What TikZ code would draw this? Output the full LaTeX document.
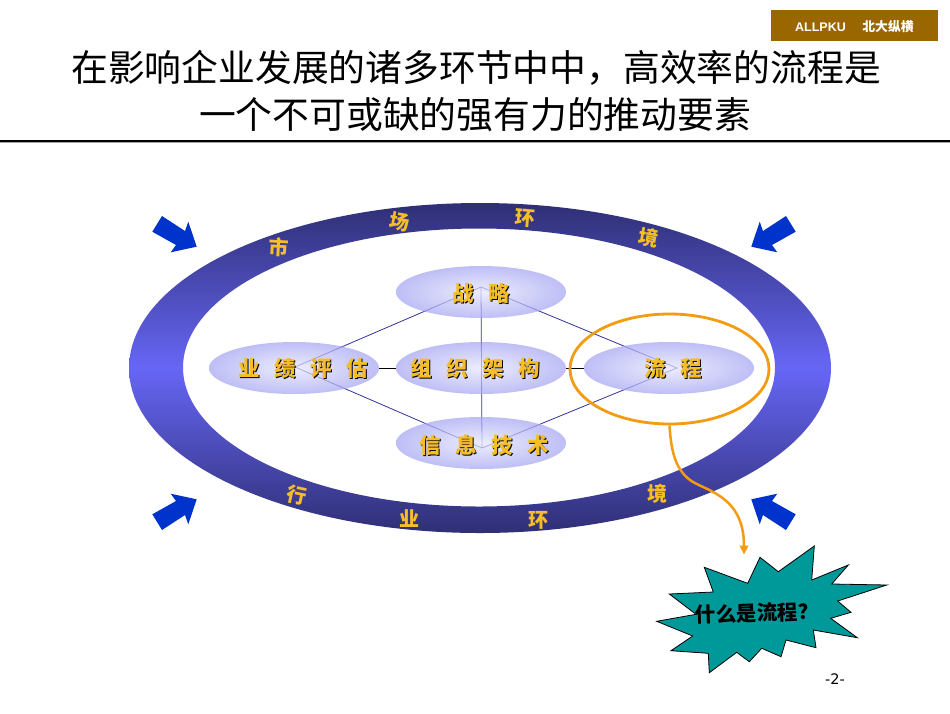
\documentclass[tikz,border=0pt]{standalone}
\usepackage{fontspec}
\usetikzlibrary{shapes.geometric,arrows.meta}
\newfontfamily\cjk{Noto Sans CJK SC}
\newfontfamily\latinb{Liberation Sans}
\newfontfamily\pagefont{DejaVu Sans}
\definecolor{ringdark}{HTML}{2F2F75}
\definecolor{ringmid}{HTML}{6666F5}
\definecolor{gold}{HTML}{F5BE28}
\definecolor{arrowblue}{HTML}{0033CC}
\definecolor{hoop}{HTML}{F39C12}
\definecolor{linkblue}{HTML}{333399}
\definecolor{headerbrown}{HTML}{996600}
\definecolor{burst}{HTML}{009999}
\definecolor{discin}{HTML}{E6E6FF}
\definecolor{discout}{HTML}{A6A6F3}
\tikzset{
  x=1pt,y=-1pt,
  disc/.style={ellipse,minimum width=170pt,minimum height=52pt,inner sep=0pt,
    inner color=discin,outer color=discout,fill opacity=.72},
  bluearrow/.style={fill=arrowblue,draw=none},
  link/.style={draw=linkblue,line width=.8pt},
  titletext/.style={font=\cjk\fontsize{36.8pt}{44pt}\selectfont,inner sep=0pt,text=black},
}
\newcommand{\glow}[5]{% name, x, y, rotation, text
  \node[rotate=#4,inner sep=0pt,text=black,font=\cjk\bfseries\fontsize{21.5pt}{24pt}\selectfont] (#1s) at (#2+1.2,#3+1.2) {#5};
  \node[rotate=#4,inner sep=0pt,text=gold,font=\cjk\bfseries\fontsize{21.5pt}{24pt}\selectfont] (#1) at (#2,#3) {#5};}
\newcommand{\ringch}[5]{% name, x, y, rotation, text
  \node[rotate=#4,inner sep=0pt,text=gold,font=\cjk\bfseries\fontsize{20pt}{24pt}\selectfont] (#1) at (#2,#3) {#5};}
\newcommand{\gap}{\hspace{14.5pt}}
\begin{document}
\begin{tikzpicture}
\useasboundingbox (0,0) rectangle (950,713);
\fill[white] (0,0) rectangle (950,713);
% header
\fill[headerbrown] (771,10) rectangle (938,41);
\node[inner sep=0pt,text=white,font=\latinb\bfseries\fontsize{12.5pt}{14pt}\selectfont] (brand) at (820.5,27) {ALLPKU};
\node[inner sep=0pt,text=white,font=\cjk\bfseries\fontsize{12.8pt}{14pt}\selectfont] (brandcn) at (888,27) {北大纵横};
% title
\node[titletext] (title1) at (476,68) {在影响企业发展的诸多环节中中，高效率的流程是};
\node[titletext] (title2) at (475,115) {一个不可或缺的强有力的推动要素};
\fill[gray!70] (0,142) rectangle (950,143);
\fill[black] (0,140) rectangle (950,142.4);
% ring
\shade[even odd rule,top color=ringdark,bottom color=ringdark,middle color=ringmid]
  (480,368) ellipse [x radius=351pt,y radius=165pt]
  (479,367.5) ellipse [x radius=296pt,y radius=139pt];
% blue arrows
\fill[bluearrow] (162,216)--(185,231)--(188.3,221.7)--(196.7,246.7)--(170.7,252.3)--(176,245)--(152.3,231.7)--cycle;
\fill[bluearrow] (786,216)--(763,231)--(759.7,221.7)--(751.3,246.7)--(777.3,252.3)--(772,245)--(795.7,231.7)--cycle;
\fill[bluearrow] (162,530)--(185,515)--(188.3,524.3)--(196.7,499.3)--(170.7,493.7)--(176,501)--(152.3,514.3)--cycle;
\fill[bluearrow] (786,530)--(763,515)--(759.7,524.3)--(751.3,499.3)--(777.3,493.7)--(772,501)--(795.7,514.3)--cycle;
% links (under the translucent discs)
\coordinate (va) at (481,287);
\coordinate (vb) at (677,368);
\coordinate (vc) at (482,448);
\coordinate (vd) at (295,367);
\draw[link] (vd)--(va)--(vb)--(vc)--(vd);
\draw[link] (va)--(vc);
% discs
\node[disc] (strategy) at (481,292) {};
\node[disc] (perf) at (294,368) {};
\node[disc] (org) at (481,368) {};
\node[disc] (process) at (669,368) {};
\node[disc] (it) at (481,443) {};
\draw[black,line width=1pt] (perf.east)--(org.west);
\draw[black,line width=1pt] (org.east)--(process.west);
% disc labels
\glow{t1}{481}{293}{0}{战\gap 略}
\glow{t2}{303}{368}{0}{业\gap 绩\gap 评\gap 估}
\glow{t3}{475}{368}{0}{组\gap 织\gap 架\gap 构}
\glow{t4}{673}{368}{0}{流\gap 程}
\glow{t5}{484}{445}{0}{信\gap 息\gap 技\gap 术}
% ring labels
\ringch{r1}{279}{247}{-3}{市}
\ringch{r2}{400}{222}{-10}{场}
\ringch{r3}{525}{218}{-5}{环}
\ringch{r4}{649}{238}{-10}{境}
\ringch{r5}{297}{495}{-12}{行}
\ringch{r6}{409}{519}{0}{业}
\ringch{r7}{538}{520}{0}{环}
\ringch{r8}{657}{494}{0}{境}
% highlight
\node[ellipse,draw=hoop,line width=2.8pt,minimum width=199pt,minimum height=110pt,inner sep=0pt] (hoopnode) at (669.5,369) {};
% burst
\fill[burst,draw=black,line width=.8pt,line join=miter]
 (814.3,546)--(811.7,580)--(848.3,565)--(831.7,584)--(886.7,585)--(837.7,601)--(851,612.3)--(830.7,618.3)--(857.3,637.7)--(813.3,630)--(816,647.7)--(786,640)--(781,656.7)--(761.7,648.3)--(749.3,661.7)--(736.7,652.3)--(709.3,672.7)--(708.3,653.3)--(671,650.7)--(692.7,636)--(656.7,621.3)--(696,614.3)--(669.3,594)--(713.3,592)--(704.3,567.3)--(747.7,583.3)--(760,557.3)--(778.3,571.7)--cycle;
\node[inner sep=0pt,rotate=2,text=black,font=\cjk\bfseries\fontsize{20.5pt}{22pt}\selectfont] (whatis) at (757,613) {什么是流程？};
% curved arrow
\draw[hoop,line width=2.5pt,-{Triangle[length=9pt,width=8.5pt]}]
  (hoopnode.south) .. controls (671,448) and (674,468) .. (690,480)
  .. controls (705,491) and (744,495) .. (744,554.5);
% page number
\node[inner sep=0pt,text=black,font=\pagefont\fontsize{14.5pt}{16pt}\selectfont] (pagenum) at (835,679) {-2-};
\end{tikzpicture}
\end{document}
